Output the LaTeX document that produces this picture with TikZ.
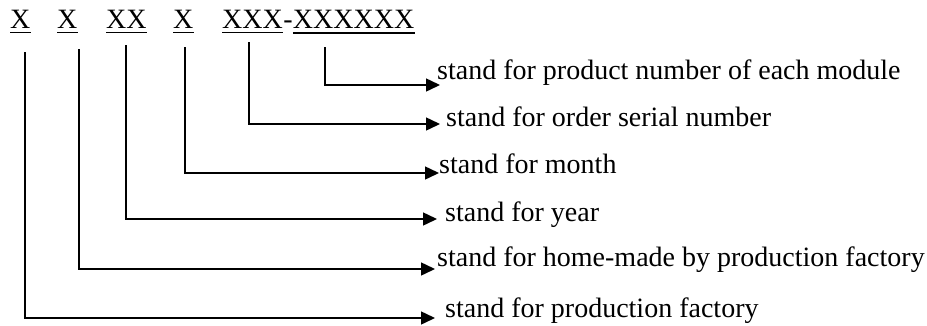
\documentclass[tikz,border=0pt]{standalone}
\usepackage{fontspec}
\setmainfont{Liberation Serif}
\usetikzlibrary{arrows.meta}
\begin{document}
\begin{tikzpicture}[x=1pt,y=-1pt,
  code/.style={anchor=base west,inner sep=0pt,font=\fontsize{28}{30}\selectfont},
  desc/.style={anchor=base west,inner sep=0pt,font=\fontsize{28}{30}\selectfont},
  uline/.style={line width=1.5pt},
  conn/.style={line width=1.5pt,-{Triangle[length=14pt,width=13pt]}}]
\useasboundingbox (0,0) rectangle (927,325);
% code labels
\node[code] (c1) at (10,28.5) {X};
\node[code] (c2) at (57,28.5) {X};
\node[code] (c3) at (106,28.5) {XX};
\node[code] (c4) at (173,28.5) {X};
\node[code] (c5) at (222,28.5) {XXX};
\node[code] (h)  at (c5.base east) {-};
\node[code] (c6) at (h.base east) {XXXXXX};
\foreach \n in {c1,c2,c3,c4,c5}{
  \draw[uline] ([yshift=-4pt]\n.base west) -- ([yshift=-4pt]\n.base east);
}
\draw[line width=2pt] ([yshift=-4pt]c6.base west) -- ([yshift=-4pt]c6.base east);
% descriptions
\node[desc] (d6) at (437,79) {stand for product number of each module};
\node[desc] (d5) at (446,126) {stand for order serial number};
\node[desc] (d4) at (439,173) {stand for month};
\node[desc] (d3) at (445,221) {stand for year};
\node[desc] (d2) at (437,266) {stand for home-made by production factory};
\node[desc] (d1) at (445,317) {stand for production factory};
% start and tip coordinates
\coordinate (s6) at (325,47);  \coordinate (t6) at (440,85);
\coordinate (s5) at (249,42);  \coordinate (t5) at (440,124);
\coordinate (s4) at (185,47);  \coordinate (t4) at (439,173);
\coordinate (s3) at (126,45);  \coordinate (t3) at (437,219);
\coordinate (s2) at (79,49);   \coordinate (t2) at (435,269);
\coordinate (s1) at (25,52);   \coordinate (t1) at (435,318);
\foreach \i in {1,...,6}{
  \draw[conn] (s\i) |- (t\i);
}
\end{tikzpicture}
\end{document}
